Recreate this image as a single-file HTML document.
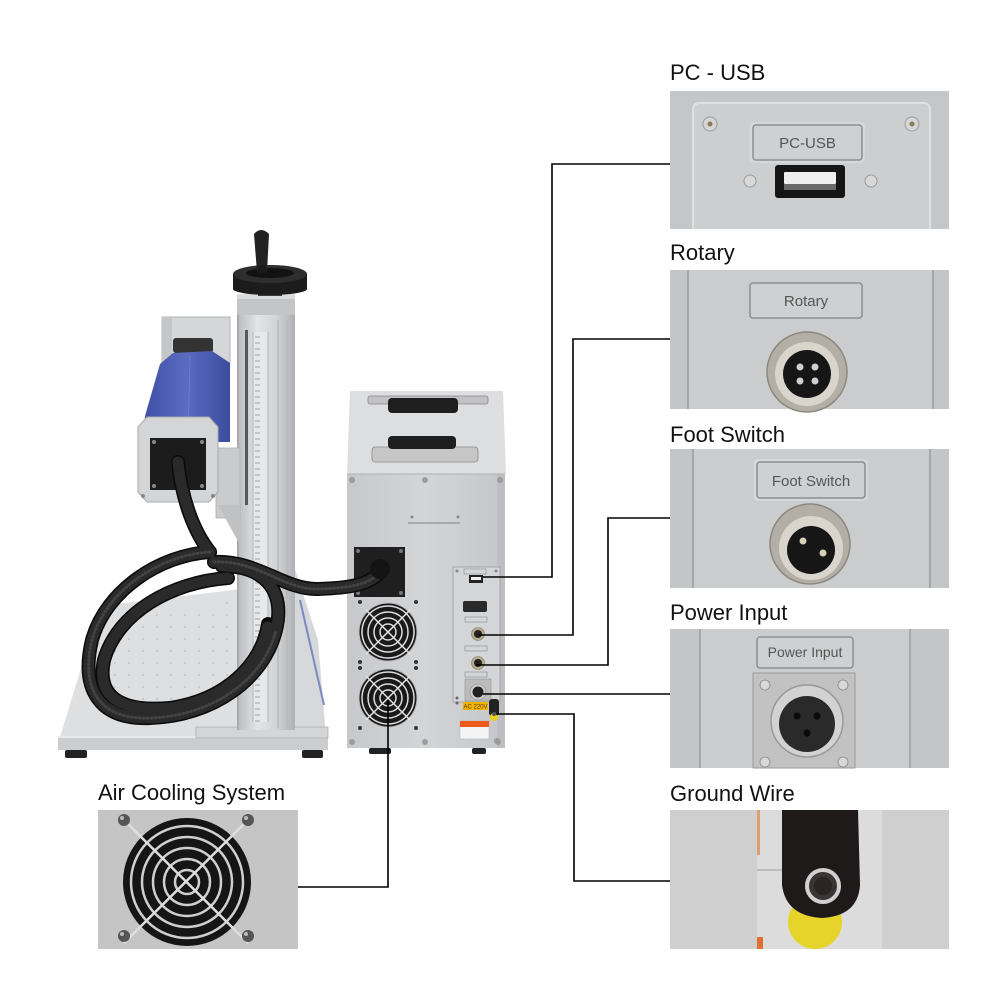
<!DOCTYPE html>
<html>
<head>
<meta charset="utf-8">
<style>
html,body{margin:0;padding:0;background:#fff;}
svg{display:block;}
text{font-family:"Liberation Sans",Arial,sans-serif;}
</style>
</head>
<body>
<svg width="1000" height="1000" viewBox="0 0 1000 1000" xmlns="http://www.w3.org/2000/svg">
<defs>
  <linearGradient id="colG" x1="0" x2="1" y1="0" y2="0">
    <stop offset="0" stop-color="#b9bbbe"/>
    <stop offset="0.35" stop-color="#e2e4e6"/>
    <stop offset="0.7" stop-color="#d0d2d4"/>
    <stop offset="1" stop-color="#aeb0b3"/>
  </linearGradient>
  <linearGradient id="blueG" x1="0" x2="1" y1="0" y2="0">
    <stop offset="0" stop-color="#3e4fa6"/>
    <stop offset="0.5" stop-color="#5a6bc0"/>
    <stop offset="1" stop-color="#3c4c9e"/>
  </linearGradient>
  <linearGradient id="boxG" x1="0" x2="1" y1="0" y2="0">
    <stop offset="0" stop-color="#c6c8cb"/>
    <stop offset="0.5" stop-color="#d3d5d7"/>
    <stop offset="1" stop-color="#c4c6c9"/>
  </linearGradient>
  <pattern id="ticks" x="0" y="0" width="15" height="6" patternUnits="userSpaceOnUse">
    <rect x="0" y="0" width="15" height="6" fill="#e6e8ea"/>
    <line x1="0" y1="1" x2="5" y2="1" stroke="#8a8c8e" stroke-width="0.8"/>
  </pattern>
  <pattern id="dots" x="0" y="0" width="14" height="12" patternUnits="userSpaceOnUse">
    <circle cx="3" cy="3" r="0.9" fill="#b8babc"/>
  </pattern>
</defs>

<!-- ============ MACHINE ============ -->
<polygon points="60,737 100,606 250,588 250,737" fill="#dddfe1"/>
<polygon points="110,620 240,600 240,700 100,720" fill="url(#dots)"/>
<rect x="58" y="736" width="270" height="14" fill="#cbcdcf"/>
<line x1="58" y1="737" x2="328" y2="737" stroke="#f2f3f4" stroke-width="1.5"/>
<rect x="65" y="750" width="22" height="8" rx="2" fill="#222"/>
<rect x="302" y="750" width="21" height="8" rx="2" fill="#222"/>

<polygon points="292,560 318,640 326,737 292,737" fill="#d6d8dc"/>
<line x1="300" y1="600" x2="324" y2="705" stroke="#7d89c2" stroke-width="2"/>
<rect x="196" y="727" width="132" height="11" fill="#d3d5d7" stroke="#b0b2b4" stroke-width="0.8"/>

<rect x="237" y="314" width="58" height="416" fill="url(#colG)"/>
<rect x="253" y="332" width="15" height="390" fill="url(#ticks)"/>
<line x1="253" y1="332" x2="253" y2="722" stroke="#a4a6a8" stroke-width="0.8"/>
<line x1="268" y1="332" x2="268" y2="722" stroke="#a4a6a8" stroke-width="0.8"/>
<rect x="245" y="330" width="3" height="175" fill="#55585c"/>
<line x1="278" y1="320" x2="278" y2="728" stroke="#a9abad" stroke-width="1"/>
<line x1="287" y1="320" x2="287" y2="728" stroke="#b4b6b8" stroke-width="1"/>
<line x1="238" y1="315" x2="238" y2="730" stroke="#9a9c9f" stroke-width="1.2"/>
<rect x="237" y="294" width="58" height="21" fill="#c3c5c7"/>
<rect x="237" y="294" width="58" height="5" fill="#d9dbdd"/>
<rect x="258" y="288" width="24" height="8" fill="#3a3a3a"/>
<rect x="233" y="274" width="74" height="15" fill="#1c1c1c"/>
<ellipse cx="270" cy="289" rx="37" ry="6" fill="#1c1c1c"/>
<ellipse cx="270" cy="274" rx="37" ry="9" fill="#2e2e2e"/>
<ellipse cx="270" cy="273" rx="24" ry="5" fill="#121212"/>
<path d="M254,234 Q261,226 269,234 L267,272 L257,272 Z" fill="#222"/>
<rect x="258" y="265" width="8" height="8" fill="#1a1a1a"/>

<rect x="162" y="317" width="68" height="46" fill="#d4d6d8" stroke="#b2b4b6" stroke-width="1"/>
<rect x="162" y="317" width="10" height="46" fill="#c4c6c8"/>
<rect x="173" y="338" width="40" height="15" rx="3" fill="#333"/>
<polygon points="160,364 173,353 212,351 230,363 230,442 143,442 145,416" fill="url(#blueG)"/>
<line x1="190" y1="356" x2="188" y2="440" stroke="#6a7ad0" stroke-width="1"/>
<rect x="216" y="448" width="24" height="70" fill="#c9cbcd" stroke="#adafb1" stroke-width="0.8"/>
<polygon points="218,505 240,505 240,545" fill="#bfc1c3"/>
<polygon points="147,417 209,417 218,427 218,492 209,502 147,502 138,492 138,427" fill="#d3d5d7" stroke="#a8aaac" stroke-width="1"/>
<rect x="150" y="438" width="56" height="52" fill="#1c1c1c"/>
<circle cx="154" cy="442" r="2" fill="#888"/><circle cx="202" cy="442" r="2" fill="#888"/>
<circle cx="154" cy="486" r="2" fill="#888"/><circle cx="202" cy="486" r="2" fill="#888"/>
<circle cx="143" cy="496" r="2" fill="#888"/><circle cx="213" cy="496" r="2" fill="#888"/>

<!-- ============ CONTROL BOX ============ -->
<polygon points="350,391 503,391 506,474 347,474" fill="#dcdee0"/>
<rect x="368" y="396" width="120" height="8" rx="2" fill="#c2c2c2" stroke="#8a8a8a" stroke-width="0.8"/>
<rect x="388" y="398" width="70" height="15" rx="4" fill="#1e1e1e"/>
<rect x="372" y="447" width="106" height="15" rx="3" fill="#c6c6c6" stroke="#8a8a8a" stroke-width="0.8"/>
<rect x="388" y="436" width="68" height="13" rx="4" fill="#1e1e1e"/>
<rect x="347" y="474" width="158" height="274" fill="url(#boxG)"/>
<rect x="497" y="474" width="8" height="274" fill="#bcbec1"/>
<line x1="347" y1="474" x2="505" y2="474" stroke="#b0b2b4" stroke-width="1"/>
<circle cx="352" cy="480" r="3" fill="#9a9c9e"/><circle cx="425" cy="480" r="3" fill="#9a9c9e"/><circle cx="500" cy="480" r="3" fill="#9a9c9e"/>
<circle cx="352" cy="742" r="3" fill="#9a9c9e"/><circle cx="425" cy="742" r="3" fill="#9a9c9e"/><circle cx="498" cy="742" r="3" fill="#9a9c9e"/>
<rect x="408" y="522" width="52" height="2" fill="#a8aaac"/>
<circle cx="412" cy="517" r="1.5" fill="#888"/><circle cx="458" cy="517" r="1.5" fill="#888"/>
<rect x="354" y="547" width="51" height="50" fill="#1f1f1f"/>
<circle cx="358" cy="551" r="2" fill="#777"/><circle cx="401" cy="551" r="2" fill="#777"/>
<circle cx="358" cy="593" r="2" fill="#777"/><circle cx="401" cy="593" r="2" fill="#777"/>
<g>
  <circle cx="388" cy="632" r="29" fill="#1a1a1a" stroke="#bbb" stroke-width="1"/>
  <circle cx="388" cy="632" r="26" fill="none" stroke="#dedede" stroke-width="1.5"/>
  <circle cx="388" cy="632" r="20" fill="none" stroke="#dedede" stroke-width="1.5"/>
  <circle cx="388" cy="632" r="14" fill="none" stroke="#dedede" stroke-width="1.5"/>
  <circle cx="388" cy="632" r="8" fill="none" stroke="#dedede" stroke-width="1.5"/>
  <line x1="366" y1="610" x2="410" y2="654" stroke="#e6e6e6" stroke-width="1.5"/>
  <line x1="410" y1="610" x2="366" y2="654" stroke="#e6e6e6" stroke-width="1.5"/>
</g>
<g>
  <circle cx="388" cy="698" r="29" fill="#1a1a1a" stroke="#bbb" stroke-width="1"/>
  <circle cx="388" cy="698" r="26" fill="none" stroke="#dedede" stroke-width="1.5"/>
  <circle cx="388" cy="698" r="20" fill="none" stroke="#dedede" stroke-width="1.5"/>
  <circle cx="388" cy="698" r="14" fill="none" stroke="#dedede" stroke-width="1.5"/>
  <circle cx="388" cy="698" r="8" fill="none" stroke="#dedede" stroke-width="1.5"/>
  <line x1="366" y1="676" x2="410" y2="720" stroke="#e6e6e6" stroke-width="1.5"/>
  <line x1="410" y1="676" x2="366" y2="720" stroke="#e6e6e6" stroke-width="1.5"/>
</g>
<circle cx="360" cy="602" r="2" fill="#333"/><circle cx="416" cy="602" r="2" fill="#333"/>
<circle cx="360" cy="662" r="2" fill="#333"/><circle cx="416" cy="662" r="2" fill="#333"/>
<circle cx="360" cy="668" r="2" fill="#333"/><circle cx="416" cy="668" r="2" fill="#333"/>
<circle cx="360" cy="728" r="2" fill="#333"/><circle cx="416" cy="728" r="2" fill="#333"/>
<rect x="453" y="567" width="47" height="135" fill="#d3d5d7" stroke="#9c9ea0" stroke-width="0.8"/>
<circle cx="457" cy="571" r="1.5" fill="#888"/><circle cx="496" cy="571" r="1.5" fill="#888"/>
<rect x="464" y="569" width="22" height="5" fill="none" stroke="#8a8a8a" stroke-width="0.6"/>
<rect x="469" y="575" width="14" height="8" fill="#222"/><rect x="471" y="577" width="10" height="3" fill="#eee"/>
<rect x="463" y="601" width="24" height="11" rx="2" fill="#2a2a2a"/>
<rect x="465" y="617" width="22" height="5" fill="none" stroke="#8a8a8a" stroke-width="0.6"/>
<circle cx="478" cy="634" r="6.5" fill="#b9ab88" stroke="#777" stroke-width="0.6"/><circle cx="478" cy="634" r="4" fill="#222"/>
<rect x="465" y="646" width="22" height="5" fill="none" stroke="#8a8a8a" stroke-width="0.6"/>
<circle cx="478" cy="663" r="6.5" fill="#b9ab88" stroke="#777" stroke-width="0.6"/><circle cx="478" cy="663" r="4" fill="#222"/>
<rect x="465" y="672" width="22" height="5" fill="none" stroke="#8a8a8a" stroke-width="0.6"/>
<rect x="465" y="679" width="26" height="22" fill="#bcbcbc" stroke="#888" stroke-width="0.5"/>
<circle cx="478" cy="692" r="8" fill="#cfcfcf" stroke="#888" stroke-width="0.6"/><circle cx="478" cy="692" r="5.5" fill="#222"/>
<rect x="463" y="702" width="25" height="8" fill="#f0b400"/>
<text x="475.5" y="708.5" font-size="6" fill="#5a3a00" text-anchor="middle">AC 220V</text>
<circle cx="457" cy="698" r="1.5" fill="#666"/><circle cx="457" cy="703" r="1.5" fill="#666"/>
<rect x="489" y="699" width="10" height="17" rx="3" fill="#222"/>
<circle cx="494" cy="717" r="4" fill="#e6d21a"/>
<circle cx="494" cy="714" r="2" fill="#555"/>
<rect x="460" y="721" width="29" height="18" fill="#f4f4f4" stroke="#bbb" stroke-width="0.6"/>
<rect x="460" y="721" width="29" height="6" fill="#ee5a1a"/>
<circle cx="497" cy="741" r="3" fill="#999"/>
<rect x="369" y="748" width="22" height="6" rx="2" fill="#222"/>
<rect x="472" y="748" width="14" height="6" rx="2" fill="#222"/>

<!-- ============ HOSE ============ -->
<g fill="none" stroke-linecap="round">
  <g stroke="#0b0b0b" stroke-width="14">
    <path d="M178,462 C182,500 194,532 210,552"/>
    <path d="M210,552 C160,555 106,590 92,640 C80,690 100,720 150,718 C212,716 264,680 276,630 C286,588 262,566 222,566"/>
    <path d="M228,578 C172,582 118,612 104,660 C96,698 122,712 170,708 C226,700 262,664 268,624"/>
    <path d="M214,562 C258,560 284,590 318,589 C346,588 370,586 382,570"/>
  </g>
  <g stroke="#2a2a2a" stroke-width="11" stroke-dasharray="1 3">
    <path d="M178,462 C182,500 194,532 210,552"/>
    <path d="M210,552 C160,555 106,590 92,640 C80,690 100,720 150,718 C212,716 264,680 276,630 C286,588 262,566 222,566"/>
    <path d="M228,578 C172,582 118,612 104,660 C96,698 122,712 170,708 C226,700 262,664 268,624"/>
    <path d="M214,562 C258,560 284,590 318,589 C346,588 370,586 382,570"/>
  </g>
  <g stroke="#555" stroke-width="3" stroke-dasharray="1 3" opacity="0.6">
    <path d="M210,552 C160,555 106,590 92,640 C80,690 100,720 150,718 C212,716 264,680 276,630"/>
    <path d="M214,562 C258,560 284,590 318,589 C346,588 370,586 382,570"/>
  </g>
</g>
<circle cx="380" cy="569" r="10" fill="#141414"/>

<!-- ============ CONNECTOR LINES ============ -->
<g fill="none" stroke="#000" stroke-width="1.6">
  <polyline points="483,577 552,577 552,164 670,164"/>
  <polyline points="479,635 573,635 573,339 670,339"/>
  <polyline points="476,665 608,665 608,518 670,518"/>
  <polyline points="483,694 670,694"/>
  <polyline points="496,714 574,714 574,881 670,881"/>
  <polyline points="388,700 388,887 298,887"/>
</g>

<!-- ============ LABELS ============ -->
<g font-size="22" fill="#111">
  <text x="670" y="80">PC - USB</text>
  <text x="670" y="260">Rotary</text>
  <text x="670" y="442">Foot Switch</text>
  <text x="670" y="620">Power Input</text>
  <text x="670" y="801">Ground Wire</text>
  <text x="98" y="800">Air Cooling System</text>
</g>

<!-- ============ PC-USB PANEL ============ -->
<rect x="670" y="91" width="279" height="138" fill="#c5c6c8"/>
<path d="M693,229 L693,110 Q693,103 700,103 L923,103 Q930,103 930,110 L930,229" fill="#cdcecf" stroke="#e0e1e2" stroke-width="2"/>
<circle cx="710" cy="124" r="7" fill="#d6d6d6" stroke="#9a9a9a" stroke-width="1"/>
<circle cx="710" cy="124" r="2.5" fill="#8a7a5a"/>
<circle cx="912" cy="124" r="7" fill="#d6d6d6" stroke="#9a9a9a" stroke-width="1"/>
<circle cx="912" cy="124" r="2.5" fill="#8a7a5a"/>
<rect x="750" y="122" width="115" height="41" rx="4" fill="#d6d7d8"/>
<rect x="753" y="125" width="109" height="35" rx="3" fill="#cfd0d1" stroke="#8d8e90" stroke-width="1.5"/>
<text x="807.5" y="148" font-size="15" fill="#555" text-anchor="middle">PC-USB</text>
<rect x="775" y="165" width="70" height="33" rx="3" fill="#151515"/>
<rect x="784" y="172" width="52" height="12" rx="1" fill="#eeeeee"/>
<rect x="784" y="184" width="52" height="6" fill="#6a6a6a"/>
<circle cx="750" cy="181" r="6" fill="#d8d8d8" stroke="#9a9a9a" stroke-width="1"/>
<circle cx="871" cy="181" r="6" fill="#d8d8d8" stroke="#9a9a9a" stroke-width="1"/>

<!-- ============ ROTARY PANEL ============ -->
<rect x="670" y="270" width="279" height="139" fill="#c4c5c7"/>
<rect x="688" y="270" width="245" height="139" fill="#cbcccd"/>
<line x1="688" y1="270" x2="688" y2="409" stroke="#9a9b9d" stroke-width="1.5"/>
<line x1="933" y1="270" x2="933" y2="409" stroke="#9a9b9d" stroke-width="1.5"/>
<rect x="750" y="283" width="112" height="35" rx="3" fill="#cfd0d1" stroke="#8d8e90" stroke-width="1.5"/>
<text x="806" y="306" font-size="15" fill="#555" text-anchor="middle">Rotary</text>
<circle cx="807" cy="372" r="40" fill="#b3aea6" stroke="#8c8880" stroke-width="1.5"/>
<circle cx="807" cy="374" r="32" fill="#d9d5cd"/>
<circle cx="807" cy="374" r="24" fill="#161616"/>
<circle cx="800" cy="367" r="3.5" fill="#cfcfcf"/><circle cx="815" cy="367" r="3.5" fill="#cfcfcf"/>
<circle cx="800" cy="381" r="3.5" fill="#cfcfcf"/><circle cx="815" cy="381" r="3.5" fill="#cfcfcf"/>

<!-- ============ FOOT SWITCH PANEL ============ -->
<rect x="670" y="449" width="279" height="139" fill="#c4c5c7"/>
<rect x="693" y="449" width="237" height="139" fill="#cbcccd"/>
<line x1="693" y1="449" x2="693" y2="588" stroke="#9a9b9d" stroke-width="1.5"/>
<line x1="930" y1="449" x2="930" y2="588" stroke="#9a9b9d" stroke-width="1.5"/>
<rect x="754" y="459" width="114" height="42" rx="4" fill="#d6d7d8"/>
<rect x="757" y="462" width="108" height="36" rx="3" fill="#cfd0d1" stroke="#8d8e90" stroke-width="1.5"/>
<text x="811" y="486" font-size="15" fill="#555" text-anchor="middle">Foot Switch</text>
<circle cx="810" cy="544" r="40" fill="#b3aea6" stroke="#8c8880" stroke-width="1.5"/>
<circle cx="811" cy="548" r="32" fill="#d9d5cd"/>
<circle cx="811" cy="550" r="24" fill="#161616"/>
<circle cx="803" cy="541" r="3.5" fill="#d8d0b8"/><circle cx="823" cy="553" r="3.5" fill="#d8d0b8"/>

<!-- ============ POWER INPUT PANEL ============ -->
<rect x="670" y="629" width="279" height="139" fill="#c4c5c7"/>
<rect x="700" y="629" width="210" height="139" fill="#cbcccd"/>
<line x1="700" y1="629" x2="700" y2="768" stroke="#9a9b9d" stroke-width="1.5"/>
<line x1="910" y1="629" x2="910" y2="768" stroke="#9a9b9d" stroke-width="1.5"/>
<rect x="757" y="637" width="96" height="31" rx="3" fill="#cfd0d1" stroke="#8d8e90" stroke-width="1.5"/>
<text x="805" y="657" font-size="14" fill="#555" text-anchor="middle">Power Input</text>
<rect x="753" y="673" width="102" height="95" fill="#c2c2c2" stroke="#9a9a9a" stroke-width="1"/>
<circle cx="765" cy="685" r="5" fill="#d8d8d8" stroke="#888" stroke-width="0.8"/>
<circle cx="843" cy="685" r="5" fill="#d8d8d8" stroke="#888" stroke-width="0.8"/>
<circle cx="765" cy="762" r="5" fill="#d8d8d8" stroke="#888" stroke-width="0.8"/>
<circle cx="843" cy="762" r="5" fill="#d8d8d8" stroke="#888" stroke-width="0.8"/>
<circle cx="807" cy="721" r="36" fill="#d2d2d2" stroke="#999" stroke-width="1.5"/>
<circle cx="807" cy="724" r="28" fill="#2a2a2a"/>
<circle cx="797" cy="716" r="3.5" fill="#0a0a0a"/><circle cx="817" cy="716" r="3.5" fill="#0a0a0a"/>
<circle cx="807" cy="733" r="3.5" fill="#0a0a0a"/>

<!-- ============ GROUND WIRE PANEL ============ -->
<rect x="670" y="810" width="279" height="139" fill="#cfcfcf"/>
<rect x="757" y="810" width="125" height="139" fill="#dcdcdc"/>
<line x1="757" y1="870" x2="785" y2="870" stroke="#bdbdbd" stroke-width="2"/>
<rect x="757" y="937" width="6" height="12" fill="#e07030"/>
<rect x="757" y="810" width="3" height="45" fill="#d9a070"/>
<circle cx="815" cy="922" r="27" fill="#e6d42a"/>
<path d="M782,810 L858,810 L860,885 Q858,916 822,918 Q786,916 782,885 Z" fill="#1e1a1a"/>
<circle cx="823" cy="886" r="16" fill="#3a3434" stroke="#d0d0d0" stroke-width="4"/>
<circle cx="823" cy="886" r="9" fill="#2a2424"/>

<!-- ============ AIR COOLING PANEL ============ -->
<rect x="98" y="810" width="200" height="139" fill="#c5c5c5"/>
<circle cx="187" cy="882" r="64" fill="#151515"/>
<g fill="none" stroke="#cfcfcf" stroke-width="2.5">
  <circle cx="187" cy="882" r="56"/>
  <circle cx="187" cy="882" r="45"/>
  <circle cx="187" cy="882" r="34"/>
  <circle cx="187" cy="882" r="23"/>
  <circle cx="187" cy="882" r="12"/>
</g>
<line x1="124" y1="820" x2="248" y2="943" stroke="#dedede" stroke-width="2.5"/>
<line x1="248" y1="820" x2="124" y2="943" stroke="#dedede" stroke-width="2.5"/>
<circle cx="124" cy="820" r="6" fill="#555"/><circle cx="122" cy="818" r="2" fill="#bbb"/>
<circle cx="248" cy="820" r="6" fill="#555"/><circle cx="246" cy="818" r="2" fill="#bbb"/>
<circle cx="124" cy="936" r="6" fill="#555"/><circle cx="122" cy="934" r="2" fill="#bbb"/>
<circle cx="248" cy="936" r="6" fill="#555"/><circle cx="246" cy="934" r="2" fill="#bbb"/>
</svg>
</body>
</html>
